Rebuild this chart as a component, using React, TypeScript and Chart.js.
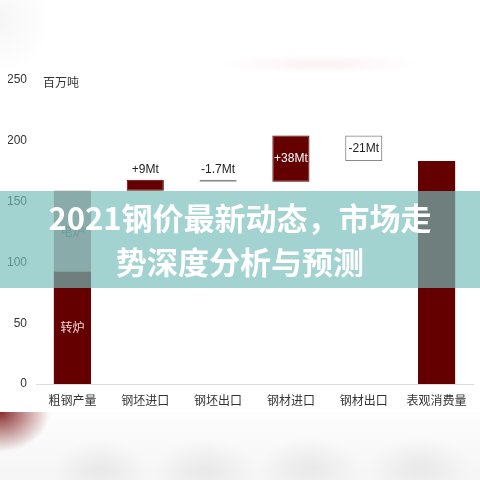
import { useEffect, useRef } from 'react';
import { Chart, registerables } from 'chart.js';

Chart.register(...registerables);

const categories = ['粗钢产量', '钢坯进口', '钢坯出口', '钢材进口', '钢材出口', '表观消费量'];
const bofOutput = 92.5; // 转炉
const eafOutput = 66.5; // 电炉
const changes = [9, -1.7, 38, -21];
const changeLabels = ['+9Mt', '-1.7Mt', '+38Mt', '-21Mt'];
const consumption = 183.3;
const yTicks = [0, 50, 100, 150, 200, 250];
const segmentLabels = ['转炉', '电炉'];
const unitLabel = '百万吨';
const titleLines = ['2021钢价最新动态，市场走', '势深度分析与预测'];

const DARK_RED = '#650000';
const FONT = '"Liberation Sans", "Noto Sans CJK SC", sans-serif';

// build the floating ranges of the waterfall
const empty = (): any[] => categories.map(() => null);
const crude = bofOutput + eafOutput;
const bofData = empty();
bofData[0] = [0, bofOutput];
const eafData = empty();
eafData[0] = [bofOutput, crude];
const upData = empty();
const downData = empty();
let level = crude;
changes.forEach((c, i) => {
    const range = [level, level + c];
    if (c > 0) upData[i + 1] = range;
    else downData[i + 1] = range;
    level += c;
});
const totalData = empty();
totalData[categories.length - 1] = [0, consumption];

const labelPlugin = {
    id: 'barLabels',
    afterDatasetsDraw: (chart: any) => {
        const ctx = chart.ctx;
        ctx.save();
        ctx.textAlign = 'center';
        ctx.textBaseline = 'middle';

        // labels inside the crude steel segments
        ctx.font = '12px "Noto Sans CJK SC", sans-serif';
        const segColors = ['#f3d6d6', '#5a5a5a'];
        [0, 1].forEach((ds) => {
            const el = chart.getDatasetMeta(ds).data[0];
            ctx.fillStyle = segColors[ds];
            ctx.fillText(segmentLabels[ds], el.x, (el.y + el.base) / 2);
        });

        // change labels
        ctx.font = '12px ' + FONT;
        changes.forEach((c, i) => {
            const el = chart.getDatasetMeta(c > 0 ? 2 : 3).data[i + 1];
            const top = Math.min(el.y, el.base);
            const bottom = Math.max(el.y, el.base);
            if (bottom - top > 20) {
                ctx.fillStyle = c > 0 ? '#ffffff' : '#222222';
                ctx.fillText(changeLabels[i], el.x, (top + bottom) / 2);
            } else {
                ctx.fillStyle = '#222222';
                ctx.fillText(changeLabels[i], el.x, top - 10);
            }
        });

        // unit
        const y = chart.scales.y.getPixelForValue(yTicks[yTicks.length - 1]);
        ctx.textAlign = 'left';
        ctx.fillStyle = '#333333';
        ctx.font = '12px "Noto Sans CJK SC", sans-serif';
        ctx.fillText(unitLabel, chart.chartArea.left + 7, y + 2);
        ctx.restore();
    }
};

const App: React.FC = () => {
    const chartRef = useRef<HTMLCanvasElement>(null);

    useEffect(() => {
        if (!chartRef.current) return;
        const ctx = chartRef.current.getContext('2d');
        if (!ctx) return;

        const common = { grouped: false, barPercentage: 0.51, categoryPercentage: 1 };
        const chart = new Chart(ctx, {
            type: 'bar',
            data: {
                labels: categories,
                datasets: [
                    { ...common, label: '转炉', data: bofData, backgroundColor: DARK_RED, borderWidth: 0 },
                    { ...common, label: '电炉', data: eafData, backgroundColor: '#b48888', borderWidth: 0 },
                    { ...common, label: 'up', data: upData, backgroundColor: DARK_RED, borderColor: '#550000', borderWidth: 1, borderSkipped: false },
                    { ...common, label: 'down', data: downData, backgroundColor: '#ffffff', borderColor: '#8a8a8a', borderWidth: 1.2, borderSkipped: false },
                    { ...common, label: 'total', data: totalData, backgroundColor: DARK_RED, borderWidth: 0 }
                ] as any
            },
            options: {
                responsive: false,
                animation: false,
                layout: { padding: { left: 8, right: 7, top: 80, bottom: 0 } },
                scales: {
                    x: {
                        grid: { display: false, drawTicks: false },
                        border: { display: true, color: '#dddddd', width: 1 },
                        ticks: { color: '#333333', padding: 9, font: { size: 12, family: '"Noto Sans CJK SC", sans-serif' } },
                        afterFit: (axis: any) => { axis.height = 96; }
                    },
                    y: {
                        min: 0,
                        max: 250,
                        grid: { display: false, drawTicks: false },
                        border: { display: false },
                        ticks: { color: '#333333', padding: 9, font: { size: 12, family: FONT } },
                        afterBuildTicks: (axis: any) => { axis.ticks = yTicks.map((v) => ({ value: v })); },
                        afterFit: (axis: any) => { axis.width = 28; }
                    }
                },
                plugins: {
                    legend: { display: false },
                    tooltip: { enabled: false }
                }
            },
            plugins: [labelPlugin]
        });

        return () => {
            chart.destroy();
        };
    }, []);

    const topBackground = [
        'radial-gradient(ellipse 100px 10px at 320px 64px, rgba(245,215,220,0.35), rgba(245,215,220,0) 100%)',
        'radial-gradient(ellipse 50px 55px at 0px 20px, rgba(225,225,225,0.3), rgba(225,225,225,0) 100%)',
        '#ffffff'
    ].join(', ');

    const bottomBackground = [
        'radial-gradient(ellipse 50px 40px at 0px 0px, rgba(125,20,20,0.9), rgba(125,20,20,0) 100%)',
        'radial-gradient(ellipse 45px 30px at 100px 58px, rgba(215,215,215,0.45), rgba(215,215,215,0) 100%)',
        'radial-gradient(ellipse 50px 30px at 205px 58px, rgba(215,215,215,0.45), rgba(215,215,215,0) 100%)',
        'radial-gradient(ellipse 50px 30px at 310px 56px, rgba(215,215,215,0.45), rgba(215,215,215,0) 100%)',
        'radial-gradient(ellipse 50px 30px at 420px 56px, rgba(215,215,215,0.45), rgba(215,215,215,0) 100%)',
        'linear-gradient(to bottom, #fdfdfd 0px, #f5f5f5 68px)'
    ].join(', ');

    return (
        <div style={{ position: 'fixed', left: 0, top: 0, width: 480, height: 480, background: topBackground, overflow: 'hidden' }}>
            <div style={{ position: 'absolute', left: 0, top: 412, width: 480, height: 68, background: bottomBackground }}></div>
            <canvas ref={chartRef} width={480} height={480} style={{ position: 'absolute', left: 0, top: 0, width: 480, height: 480 }}></canvas>
            <div
                style={{
                    position: 'absolute',
                    left: 0,
                    top: 191,
                    width: 480,
                    height: 97,
                    background: 'rgba(116,190,187,0.67)',
                    color: '#ffffff',
                    fontFamily: '"Noto Sans CJK SC", sans-serif',
                    fontWeight: 700,
                    fontSize: 31,
                    lineHeight: '44px',
                    textAlign: 'center',
                    paddingTop: 4,
                    boxSizing: 'border-box'
                }}
            >
                {titleLines.map((line) => (
                    <div key={line}>{line}</div>
                ))}
            </div>
        </div>
    );
};

export default App;
